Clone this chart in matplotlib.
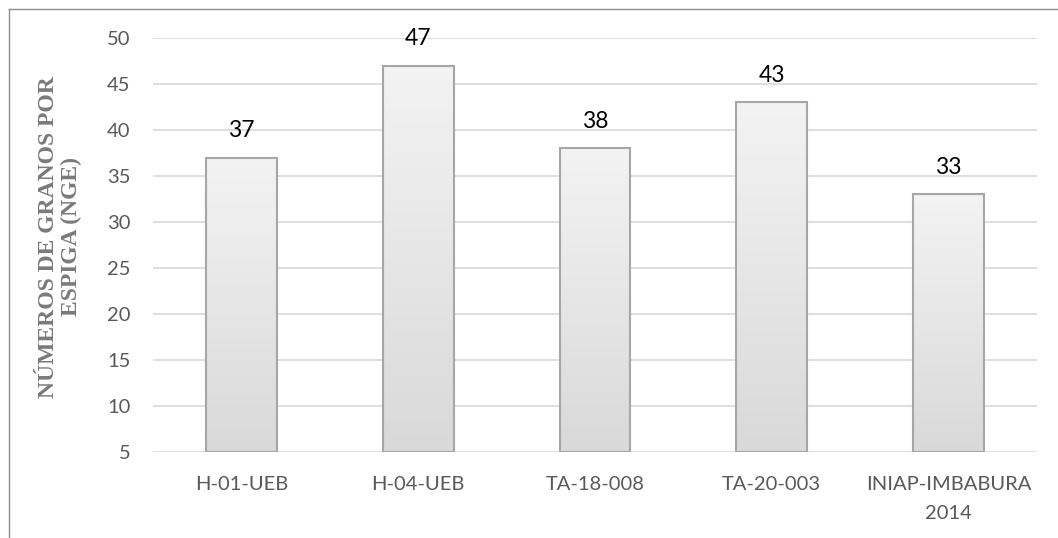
import matplotlib.pyplot as plt
import numpy as np
from matplotlib.lines import Line2D

# datos
categorias = ["H-01-UEB", "H-04-UEB", "TA-18-008", "TA-20-003", "INIAP-IMBABURA\n2014"]
valores = [37, 47, 38, 43, 33]
y_ticks = [5, 10, 15, 20, 25, 30, 35, 40, 45, 50]

fig = plt.figure(figsize=(10.58, 5.38), dpi=100)
ax = fig.add_axes([0.1446, 0.1599, 0.8355, 0.7695])

x = np.arange(len(categorias))
base = 5
bars = ax.bar(x, np.array(valores) - base, bottom=base, width=0.4,
              facecolor="none", edgecolor="#a6a6a6", linewidth=1.5, zorder=3)

# degradado vertical dentro de cada barra
grad = np.linspace(0, 1, 256).reshape(-1, 1)
cmap = plt.matplotlib.colors.LinearSegmentedColormap.from_list("g", ["#d9d9d9", "#f3f3f3"])
for b in bars:
    x0, y0 = b.get_x(), b.get_y()
    im = ax.imshow(grad, extent=[x0, x0 + b.get_width(), y0, y0 + b.get_height()],
                   origin="lower", aspect="auto", cmap=cmap, zorder=2)
    im.set_clip_path(b)

for xi, v in zip(x, valores):
    ax.annotate(str(v), (xi, v), xytext=(0, 12), textcoords="offset points",
                ha="center", va="bottom", fontsize=16.5, color="black",
                family="Lato", clip_on=False)

ax.set_xlim(-0.5, len(categorias) - 0.5)
ax.set_ylim(5, 50)
ax.set_yticks(y_ticks)
ax.set_xticks(x)
ax.set_xticklabels(categorias, fontsize=14.5, color="#595959", family="Lato",
                   linespacing=1.9)
for t in ax.get_yticklabels():
    t.set_fontsize(14.5)
    t.set_color("#595959")
    t.set_family("Lato")
ax.tick_params(axis="y", length=0, pad=16)
ax.tick_params(axis="x", length=0, pad=17)
ax.yaxis.grid(True, color="#d9d9d9", linewidth=1.2)
ax.set_axisbelow(True)
for s in ax.spines.values():
    s.set_visible(False)

ax.set_ylabel("NÚMEROS DE GRANOS POR\nESPIGA (NGE)", fontsize=17, fontweight="bold",
              family="Liberation Serif", color="#7a7a7a", linespacing=1.15)
ax.yaxis.set_label_coords(-0.080, 0.52)

# borde del gráfico
fig.add_artist(Line2D([9 / 1058, 1], [1 - 9 / 538, 1 - 9 / 538], color="#8c8c8c", lw=1))
fig.add_artist(Line2D([9 / 1058, 9 / 1058], [0, 1 - 9 / 538], color="#8c8c8c", lw=1))

fig.savefig("out.png", dpi=100)
